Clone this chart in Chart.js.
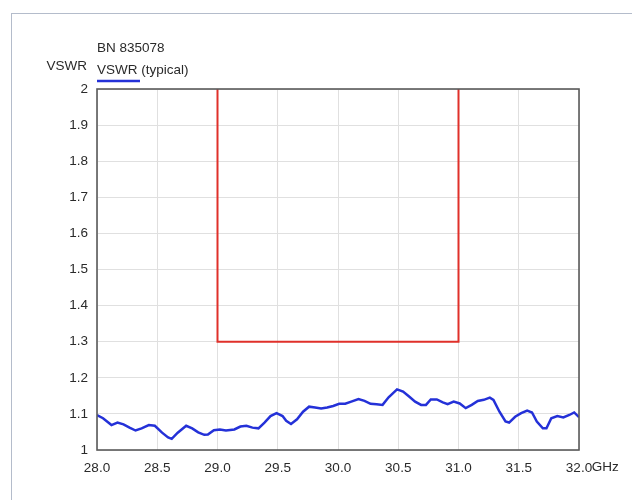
<!DOCTYPE html>
<html>
<head>
<meta charset="utf-8">
<script src="https://cdn.jsdelivr.net/npm/chart.js@4/dist/chart.umd.min.js"></script>
<style>
  html, body { margin: 0; padding: 0; background: #ffffff; }
  canvas { display: block; }
</style>
</head>
<body>
<canvas id="chart" width="632" height="500"></canvas>
<script>
// Typical VSWR trace, frequency in GHz
const freqGHz = [
  28.00, 28.05, 28.12, 28.17, 28.22, 28.27, 28.32, 28.37, 28.43, 28.48,
  28.54, 28.59, 28.62, 28.67, 28.74, 28.79, 28.84, 28.89, 28.92, 28.97,
  29.02, 29.07, 29.14, 29.19, 29.24, 29.29, 29.34, 29.39, 29.44, 29.49,
  29.54, 29.57, 29.61, 29.66, 29.71, 29.76, 29.81, 29.86, 29.91, 29.96,
  30.01, 30.06, 30.11, 30.17, 30.22, 30.27, 30.32, 30.37, 30.42, 30.49,
  30.54, 30.59, 30.64, 30.69, 30.73, 30.77, 30.82, 30.87, 30.91, 30.96,
  31.01, 31.06, 31.11, 31.16, 31.21, 31.26, 31.29, 31.34, 31.39, 31.42,
  31.47, 31.52, 31.57, 31.61, 31.65, 31.70, 31.73, 31.77, 31.82, 31.87,
  31.92, 31.96, 32.00
];
const vswrTypical = [
  1.097, 1.088, 1.069, 1.076, 1.071, 1.062, 1.054, 1.060, 1.069, 1.067,
  1.048, 1.035, 1.031, 1.048, 1.067, 1.060, 1.049, 1.042, 1.043, 1.055,
  1.057, 1.054, 1.057, 1.065, 1.067, 1.062, 1.060, 1.076, 1.094, 1.102,
  1.094, 1.081, 1.072, 1.085, 1.106, 1.120, 1.118, 1.115, 1.118, 1.122,
  1.128, 1.128, 1.134, 1.141, 1.136, 1.128, 1.127, 1.125, 1.146, 1.168,
  1.162, 1.148, 1.134, 1.125, 1.125, 1.140, 1.140, 1.132, 1.127, 1.134,
  1.129, 1.116, 1.125, 1.136, 1.139, 1.145, 1.139, 1.106, 1.079, 1.076,
  1.092, 1.102, 1.109, 1.104, 1.079, 1.060, 1.060, 1.088, 1.094, 1.090,
  1.097, 1.104, 1.091
];

// Specification limit outline (band edges and max VSWR)
const limitFreq = [29.0, 29.0, 31.0, 31.0];
const limitVswr = [2.0, 1.3, 1.3, 2.0];

// Axis ticks
const xTicks = [28.0, 28.5, 29.0, 29.5, 30.0, 30.5, 31.0, 31.5, 32.0];
const yTicks = [1, 1.1, 1.2, 1.3, 1.4, 1.5, 1.6, 1.7, 1.8, 1.9, 2];

const titleText = 'BN 835078';
const yAxisText = 'VSWR';
const seriesName = 'VSWR (typical)';
const unitText = 'GHz';

const FONT = '"Liberation Sans", Arial, sans-serif';
const FONT_SIZE = 13.5;
const TEXT_COLOR = '#2a2a2a';
const BLUE = '#2431d8';
const RED = '#e0302a';

const toPoints = (xs, ys) => xs.map((x, i) => ({ x: x, y: ys[i] }));

// Frame, plot border and header texts
const decorations = {
  id: 'decorations',
  beforeDraw(chart) {
    const ctx = chart.ctx;
    ctx.save();
    ctx.strokeStyle = '#b4bccb';
    ctx.lineWidth = 1;
    ctx.strokeRect(11.5, 13.5, chart.width + 10, chart.height + 10);
    ctx.restore();
  },
  afterDatasetsDraw(chart) {
    const ctx = chart.ctx;
    const a = chart.chartArea;
    ctx.save();
    ctx.strokeStyle = '#5a5a5a';
    ctx.lineWidth = 1.6;
    ctx.strokeRect(a.left, a.top, a.right - a.left, a.bottom - a.top);

    ctx.fillStyle = TEXT_COLOR;
    ctx.font = FONT_SIZE + 'px ' + FONT;
    ctx.textBaseline = 'middle';
    ctx.textAlign = 'left';
    ctx.fillText(titleText, a.left, 48);
    ctx.fillText(seriesName, a.left, 70);
    ctx.textAlign = 'right';
    ctx.fillText(yAxisText, a.left - 10, 66);

    // legend swatch under the series name
    ctx.strokeStyle = BLUE;
    ctx.lineWidth = 2.5;
    ctx.beginPath();
    ctx.moveTo(a.left, 81);
    ctx.lineTo(a.left + 43, 81);
    ctx.stroke();

    // unit right after the last frequency tick
    const xs = chart.scales.x;
    const lastValue = xTicks[xTicks.length - 1];
    const half = ctx.measureText(lastValue.toFixed(1)).width / 2;
    ctx.textAlign = 'left';
    ctx.fillText(unitText, xs.getPixelForValue(lastValue) + half - 0.5, 467);
    ctx.restore();
  }
};

new Chart(document.getElementById('chart'), {
  type: 'line',
  data: {
    datasets: [
      {
        label: seriesName,
        data: toPoints(freqGHz, vswrTypical),
        borderColor: BLUE,
        borderWidth: 2.5,
        pointRadius: 0,
        tension: 0,
        fill: false
      },
      {
        label: 'limit',
        data: toPoints(limitFreq, limitVswr),
        borderColor: RED,
        borderWidth: 2,
        pointRadius: 0,
        tension: 0,
        fill: false
      }
    ]
  },
  options: {
    responsive: false,
    animation: false,
    devicePixelRatio: 1,
    layout: { padding: { left: 0, right: 53, top: 89, bottom: 20 } },
    plugins: {
      legend: { display: false },
      title: { display: false },
      tooltip: { enabled: false }
    },
    scales: {
      x: {
        type: 'linear',
        min: xTicks[0],
        max: xTicks[xTicks.length - 1],
        afterBuildTicks(scale) { scale.ticks = xTicks.map(v => ({ value: v })); },
        afterFit(scale) { scale.height = 30; },
        grid: { color: '#e0e0e0', lineWidth: 1, drawTicks: false },
        border: { display: false },
        ticks: {
          padding: 10,
          color: TEXT_COLOR,
          font: { family: FONT, size: FONT_SIZE },
          maxRotation: 0,
          autoSkip: false,
          callback: v => Number(v).toFixed(1)
        }
      },
      y: {
        type: 'linear',
        min: yTicks[0],
        max: yTicks[yTicks.length - 1],
        afterBuildTicks(scale) { scale.ticks = yTicks.map(v => ({ value: v })); },
        afterFit(scale) { scale.width = 97; },
        grid: { color: '#e0e0e0', lineWidth: 1, drawTicks: false },
        border: { display: false },
        ticks: {
          padding: 9,
          color: TEXT_COLOR,
          font: { family: FONT, size: FONT_SIZE },
          autoSkip: false,
          callback: v => String(Math.round(v * 10) / 10)
        }
      }
    }
  },
  plugins: [decorations]
});
</script>
</body>
</html>
